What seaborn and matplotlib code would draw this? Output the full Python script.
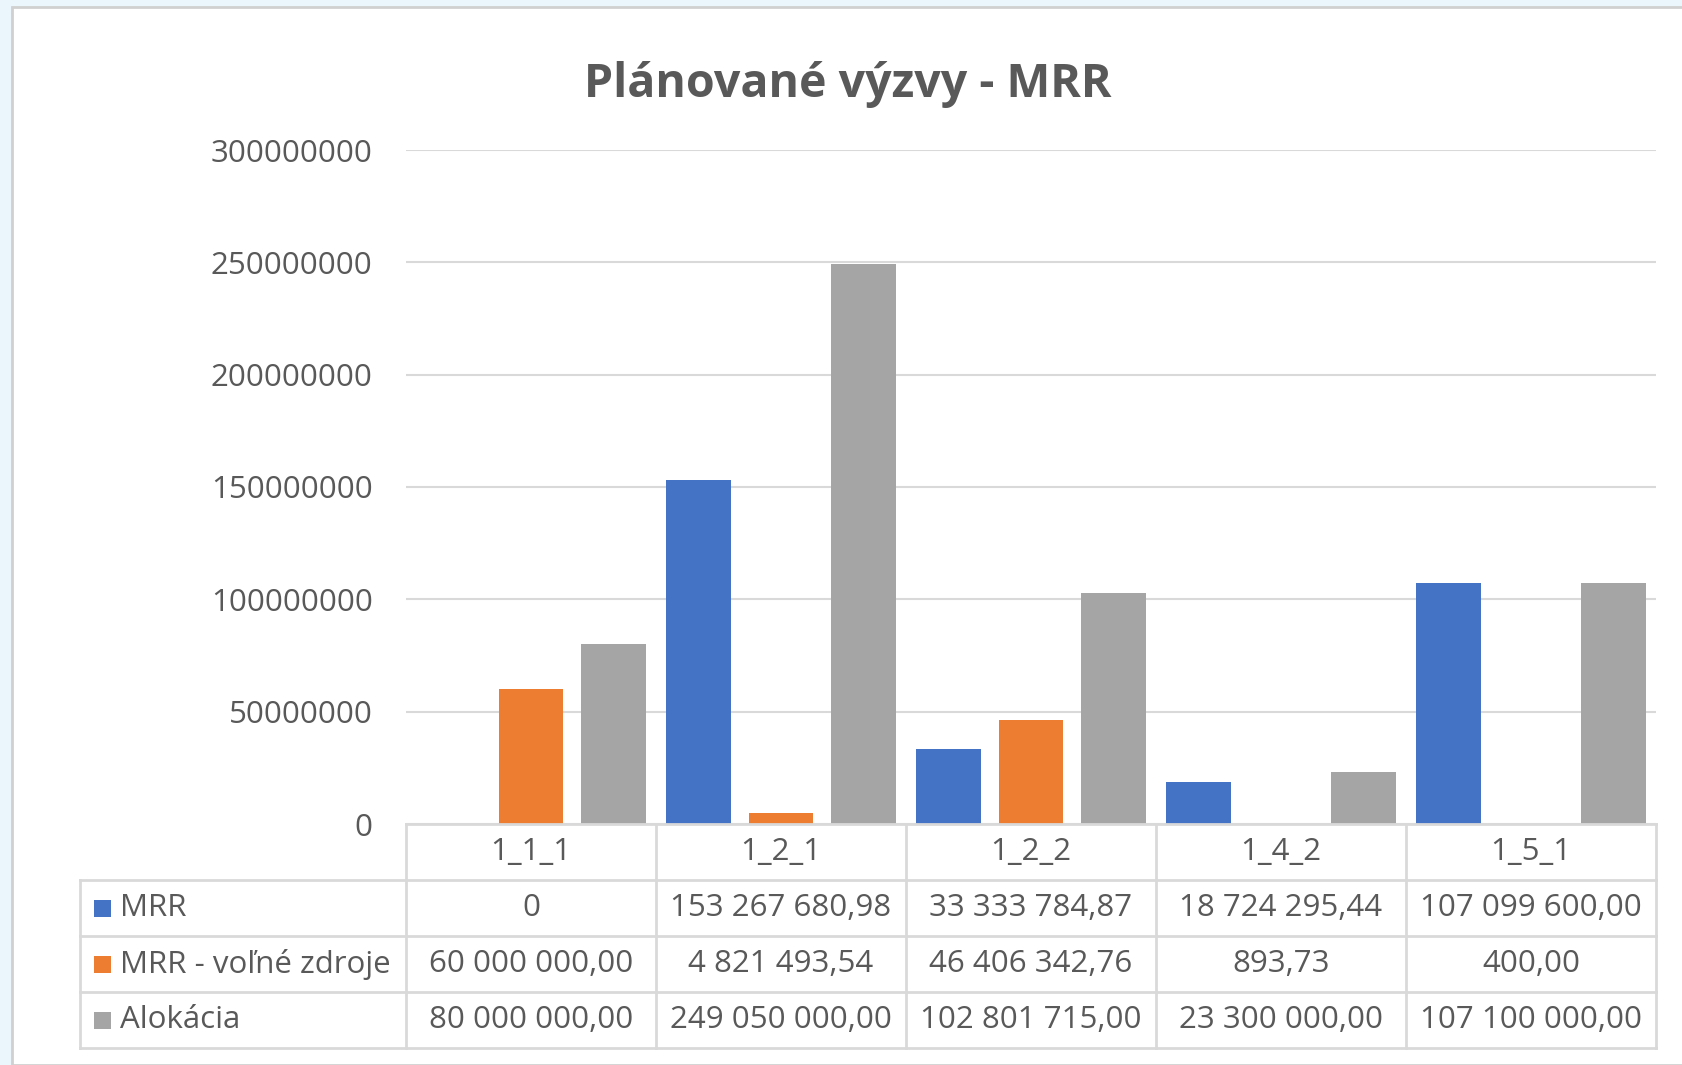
import pandas as pd
import seaborn as sns
import matplotlib.pyplot as plt
from matplotlib.patches import Rectangle
from matplotlib.lines import Line2D

kody = ['1_1_1', '1_2_1', '1_2_2', '1_4_2', '1_5_1']
serie = ['MRR', 'MRR - voľné zdroje', 'Alokácia']
mrr = [0, 153267680.98, 33333784.87, 18724295.44, 107099600.00]
mrr_volne = [60000000.00, 4821493.54, 46406342.76, 893.73, 400.00]
alokacia = [80000000.00, 249050000.00, 102801715.00, 23300000.00, 107100000.00]
y_ticks = [0, 50000000, 100000000, 150000000, 200000000, 250000000, 300000000]
farby = ['#4472C4', '#ED7D31', '#A5A5A5']

plt.rcParams['font.family'] = ['Open Sans', 'DejaVu Sans']
TXT = '#595959'
LINE = '#d9d9d9'

df = pd.DataFrame({
    'kod': kody * 3,
    'seria': [serie[0]] * 5 + [serie[1]] * 5 + [serie[2]] * 5,
    'hodnota': mrr + mrr_volne + alokacia,
})


def fmt(v):
    if v == 0:
        return '0'
    s = f'{v:,.2f}'
    return s.replace(',', ' ').replace('.', ',')


W, H = 1683, 1065
fig = plt.figure(figsize=(W / 100, H / 100), dpi=100, facecolor='#eaf6fc')
fig.patches.append(Rectangle((12 / W, 0), 1, 1 - 7 / H, transform=fig.transFigure,
                             facecolor='white', edgecolor='#d0d0d0', lw=2, zorder=-5))

ax = fig.add_axes([406 / W, (H - 824) / H, 1250 / W, 674 / H])
ax.set_facecolor('none')
sns.barplot(data=df, x='kod', y='hodnota', hue='seria', hue_order=serie,
            palette=farby, saturation=1, width=0.987, gap=0.21,
            errorbar=None, legend=False, ax=ax)

ax.set_xlim(-0.5, 4.5)
ax.set_ylim(0, 300000000)
ax.set_yticks(y_ticks)
ax.set_yticklabels([str(t) for t in y_ticks])
ax.set_xticks([])
ax.set_xlabel('')
ax.set_ylabel('')
ax.tick_params(axis='y', length=0, pad=24, labelsize=22.5, labelcolor=TXT)
ax.grid(axis='y', color=LINE, lw=1.5)
ax.set_axisbelow(True)
for s in ['top', 'right', 'left']:
    ax.spines[s].set_visible(False)
ax.spines['bottom'].set_color(LINE)
ax.spines['bottom'].set_linewidth(2)

fig.text(848 / W, 1 - 84 / H, 'Plánované výzvy - MRR', ha='center', va='center',
         fontsize=33.5, fontweight='bold', color=TXT)

# data table under the plot
rh = 56 / 674
x_left = (80 - 406) / 1250
tx = ax.get_xaxis_transform()
ta = ax.transAxes
for i in range(len(kody) + 1):
    ax.add_line(Line2D([i - 0.5, i - 0.5], [0, -4 * rh], transform=tx,
                       color=LINE, lw=2, clip_on=False))
ax.add_line(Line2D([x_left, x_left], [-rh, -4 * rh], transform=ta,
                   color=LINE, lw=2, clip_on=False))
for r in range(1, 5):
    ax.add_line(Line2D([x_left, 1], [-r * rh, -r * rh], transform=ta,
                       color=LINE, lw=2, clip_on=False))

for i, k in enumerate(kody):
    ax.text(i, -0.5 * rh, k, transform=tx, ha='center', va='center',
            fontsize=22.5, color=TXT)

for r, (nazov, vals) in enumerate(zip(serie, [mrr, mrr_volne, alokacia])):
    yc = -(r + 1.5) * rh
    ax.add_patch(Rectangle(((94 - 406) / 1250, yc - 8.5 / 674), 17 / 1250, 17 / 674,
                           transform=ta, facecolor=farby[r], clip_on=False))
    ax.text((120 - 406) / 1250, yc, nazov, transform=ta, ha='left', va='center',
            fontsize=22.5, color=TXT)
    for i, v in enumerate(vals):
        ax.text(i, yc, fmt(v), transform=tx, ha='center', va='center',
                fontsize=22.5, color=TXT)

fig.savefig('out.png', dpi=100, facecolor=fig.get_facecolor())
